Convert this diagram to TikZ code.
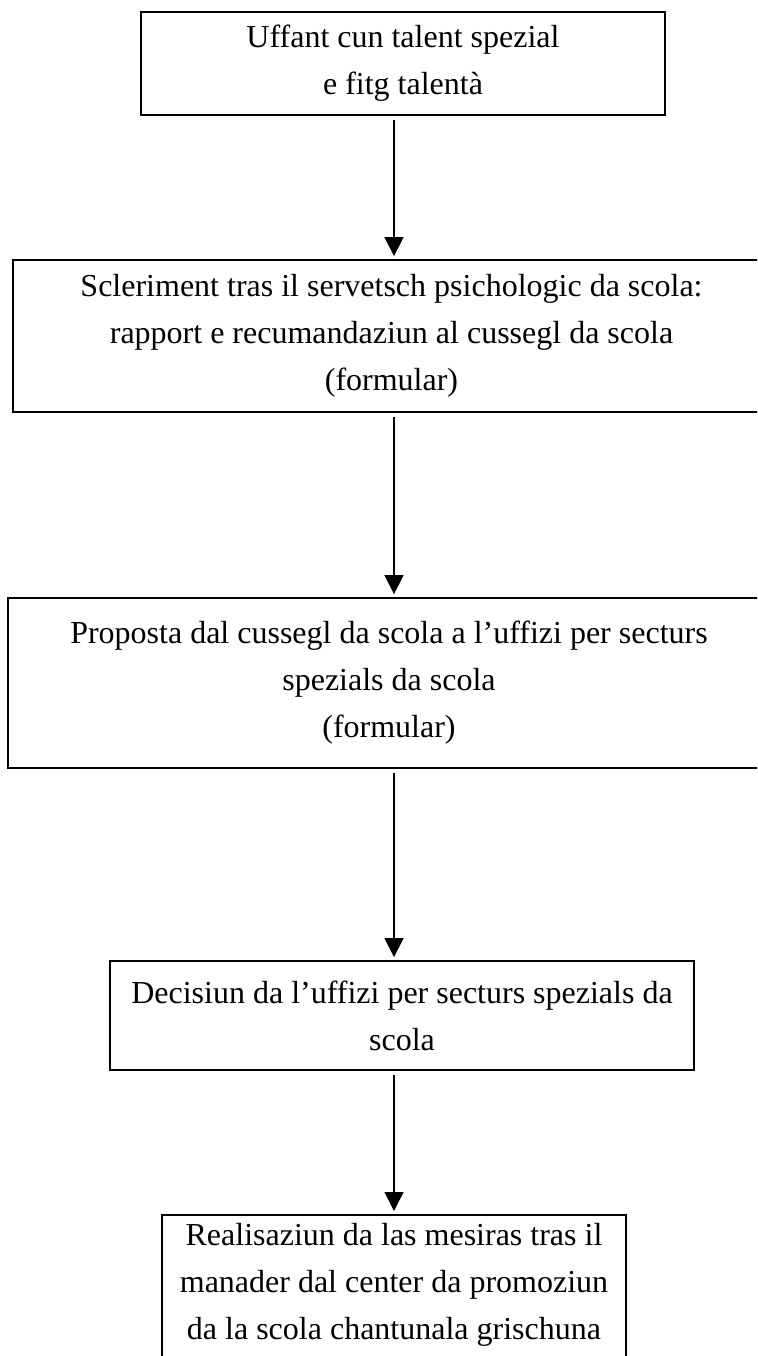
\documentclass[tikz,border=0pt]{standalone}
\usepackage{fontspec}
\setmainfont{Liberation Serif}
\usetikzlibrary{arrows.meta}
\begin{document}
\begin{tikzpicture}[x=1pt,y=-1pt,>={Triangle[width=19pt,length=19pt]},
  box/.style={draw,line width=1.8pt,align=center,inner sep=0pt,
    font=\fontsize{32}{47}\selectfont},
  flow/.style={->,line width=1.3pt,shorten <=4pt,shorten >=3pt}]
\useasboundingbox (0,0) rectangle (757,1356);
\clip (0,0) rectangle (757,1356);
\path
(403,63.5)  node[box,minimum width=524pt,minimum height=103pt] (kind) {Uffant cun talent spezial\\e fitg talentà}
(391.5,336) node[box,minimum width=757pt,minimum height=152pt] (psych) {Scleriment tras il servetsch psichologic da scola:\\rapport e recumandaziun al cussegl da scola\\(formular)}
(389,683)   node[box,minimum width=762pt,minimum height=170pt] (proposta) {Proposta dal cussegl da scola a l’uffizi per secturs\\spezials da scola\\(formular)}
(402,1015.5) node[box,minimum width=584pt,minimum height=109pt] (decisiun) {Decisiun da l’uffizi per secturs spezials da\\scola}
(394,1214)  node[box,anchor=north,inner ysep=8pt,minimum width=464pt,text depth=150pt] (realisaziun) {Realisaziun da las mesiras tras il\\manader dal center da promoziun\\da la scola chantunala grischuna};
\coordinate (axis) at (394,0);

\draw[flow] (kind.south -| axis)--(psych.north -| axis);
\draw[flow] (psych.south -| axis)--(proposta.north -| axis);
\draw[flow] (proposta.south -| axis)--(decisiun.north -| axis);
\draw[flow] (decisiun.south -| axis)--(realisaziun.north -| axis);
\end{tikzpicture}
\end{document}
